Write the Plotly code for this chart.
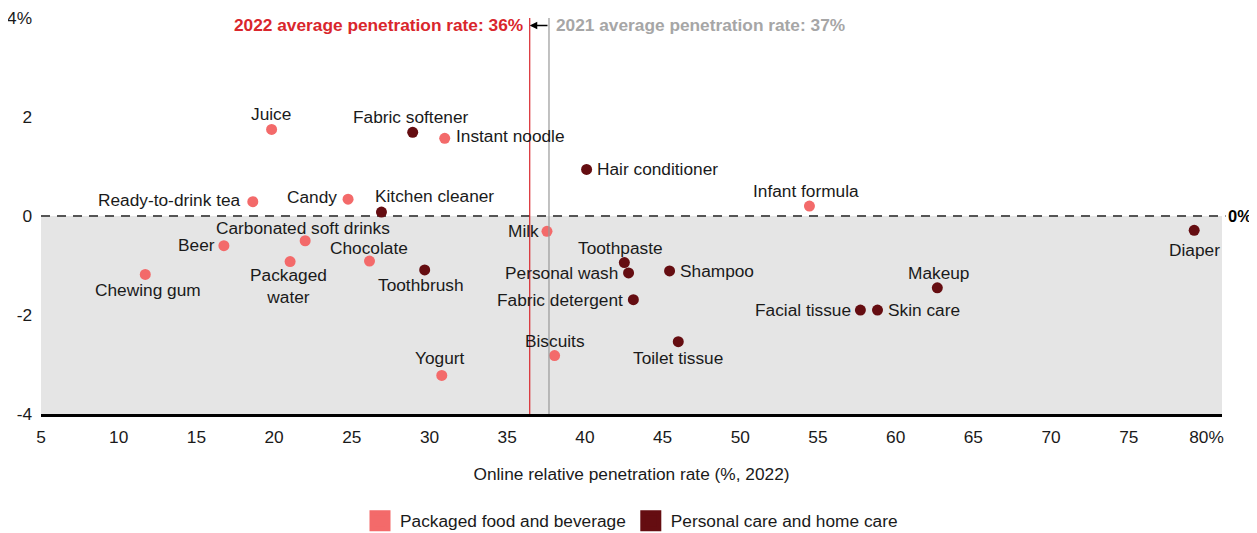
import plotly.graph_objects as go

# ---------------- data ----------------
food_names = ["Juice", "Instant noodle", "Ready-to-drink tea", "Candy", "Infant formula",
              "Carbonated soft drinks", "Beer", "Packaged<br>water", "Chocolate", "Chewing gum",
              "Milk", "Biscuits", "Yogurt"]
food_x = [19.84, 30.98, 18.63, 24.76, 54.45, 22.0, 16.77, 21.03, 26.14, 11.71, 37.56, 38.05, 30.79]
food_y = [1.75, 1.57, 0.29, 0.34, 0.20, -0.50, -0.60, -0.92, -0.91, -1.18, -0.31, -2.82, -3.22]

care_names = ["Fabric softener", "Hair conditioner", "Kitchen cleaner", "Toothbrush", "Toothpaste",
              "Personal wash", "Shampoo", "Fabric detergent", "Toilet tissue", "Makeup",
              "Facial tissue", "Skin care", "Diaper"]
care_x = [28.92, 40.11, 26.91, 29.69, 42.54, 42.81, 45.45, 43.12, 46.01, 62.68, 57.73, 58.83, 79.21]
care_y = [1.69, 0.94, 0.08, -1.09, -0.94, -1.15, -1.11, -1.69, -2.54, -1.45, -1.90, -1.90, -0.29]

avg_2022 = 36.45
avg_2021 = 37.69
x_ticks = [5, 10, 15, 20, 25, 30, 35, 40, 45, 50, 55, 60, 65, 70, 75, 80]
x_ticktext = ["5", "10", "15", "20", "25", "30", "35", "40", "45", "50", "55", "60", "65", "70", "75", "80%"]
y_ticks = [-4, -2, 0, 2, 4]
y_ticktext = ["-4", "-2", "0", "2", "4%"]

# label placement (style): (xanchor, x shift px, y shift px)
food_lbl = [("center", -1, 15), ("left", 9, 2), ("right", -10, 2), ("right", -9, 2), ("center", -3, 15),
            ("center", -2, 13), ("right", -7, 1), ("center", -2, -24), ("center", -1, 13), ("center", 3, -16),
            ("right", -6, 0), ("center", 0, 15), ("center", -2, 17)]
care_lbl = [("center", -2, 15), ("left", 8, 0), ("left", -8, 16), ("center", -4, -15), ("center", -4, 15),
            ("right", -9, 0), ("left", 8, 0), ("right", -8, 0), ("center", 0, -16), ("center", 1, 15),
            ("right", -7, 0), ("left", 9, 0), ("center", 0, -20)]

LIGHT = "#f36a6a"
DARK = "#650d11"
RED = "#d9262c"
GRAYTXT = "#a6a6a6"
FONT = "Liberation Sans, Arial, sans-serif"
FS = 17.3

fig = go.Figure()

fig.add_trace(go.Scatter(x=food_x, y=food_y, mode="markers", showlegend=False,
                         marker=dict(color=LIGHT, size=11), hoverinfo="skip"))
fig.add_trace(go.Scatter(x=care_x, y=care_y, mode="markers", showlegend=False,
                         marker=dict(color=DARK, size=11), hoverinfo="skip"))
# legend entries
fig.add_trace(go.Scatter(x=[None], y=[None], mode="markers", name="Packaged food and beverage",
                         marker=dict(color=LIGHT, size=16, symbol="square",
                                     line=dict(color=LIGHT, width=5))))
fig.add_trace(go.Scatter(x=[None], y=[None], mode="markers", name="Personal care and home care",
                         marker=dict(color=DARK, size=16, symbol="square",
                                     line=dict(color=DARK, width=5))))

annotations = []
for names, xs, ys, lbl in [(food_names, food_x, food_y, food_lbl), (care_names, care_x, care_y, care_lbl)]:
    for n, x, y, (anc, dx, dy) in zip(names, xs, ys, lbl):
        annotations.append(dict(x=x, y=y, xref="x", yref="y", text=n, showarrow=False,
                                xanchor=anc, yanchor="middle", xshift=dx, yshift=dy,
                                font=dict(size=FS, color="#1a1a1a", family=FONT)))

# average lines labels
annotations.append(dict(x=avg_2022, y=1, xref="x", yref="paper", yanchor="top", xanchor="right",
                        xshift=-5, yshift=5, showarrow=False,
                        text="<b>2022 average penetration rate: 36%</b>",
                        font=dict(size=17.3, color=RED, family=FONT)))
annotations.append(dict(x=avg_2021, y=1, xref="x", yref="paper", yanchor="top", xanchor="left",
                        xshift=5, yshift=5, showarrow=False,
                        text="<b>2021 average penetration rate: 37%</b>",
                        font=dict(size=17.3, color=GRAYTXT, family=FONT)))
annotations.append(dict(x=avg_2022, y=3.85, ax=avg_2021, ay=3.85, xref="x", yref="y",
                        axref="x", ayref="y", text="", showarrow=True, arrowhead=2,
                        arrowsize=1, arrowwidth=1.5, arrowcolor="black"))
annotations.append(dict(x=1, y=0, xref="paper", yref="y", xanchor="left", yanchor="middle",
                        xshift=4, showarrow=False, text="<b>0%</b>",
                        font=dict(size=16.5, color="black", family=FONT)))

shapes = [
    dict(type="rect", xref="paper", yref="y", x0=0, x1=1, y0=-4, y1=0,
         fillcolor="#e5e5e5", line=dict(width=0), layer="below"),
    dict(type="line", xref="paper", yref="y", x0=0, x1=1.003, y0=0, y1=0,
         line=dict(color="#555555", width=2, dash="9px,7px"), layer="below"),
    dict(type="line", xref="x", yref="paper", x0=avg_2022, x1=avg_2022, y0=0, y1=1,
         line=dict(color=RED, width=1.2), layer="above"),
    dict(type="line", xref="x", yref="paper", x0=avg_2021, x1=avg_2021, y0=0, y1=1,
         line=dict(color="#999999", width=1.2), layer="above"),
]

fig.update_layout(
    width=1249, height=525,
    margin=dict(l=33, r=35, t=10, b=119, autoexpand=False),
    paper_bgcolor="white", plot_bgcolor="white",
    font=dict(family=FONT, size=FS, color="#1a1a1a"),
    shapes=shapes, annotations=annotations,
    showlegend=True,
    legend=dict(orientation="h", x=0.5, xanchor="center", y=-0.27, yanchor="middle",
                font=dict(size=FS, family=FONT, color="#1a1a1a"), itemsizing="trace"),
    xaxis=dict(range=[5, 81], tickvals=x_ticks, ticktext=x_ticktext, showgrid=False,
               zeroline=False, showline=True, linecolor="black", linewidth=3,
               ticks="", ticklabelstandoff=5, tickfont=dict(size=FS),
               title=dict(text="Online relative penetration rate (%, 2022)", standoff=23,
                          font=dict(size=FS, family=FONT, color="#1a1a1a"))),
    yaxis=dict(range=[-4, 4], tickvals=y_ticks, ticktext=y_ticktext, showgrid=False,
               zeroline=False, showline=False, ticks="", ticklabelstandoff=8,
               tickfont=dict(size=FS)),
)

fig.write_html("out.html")
